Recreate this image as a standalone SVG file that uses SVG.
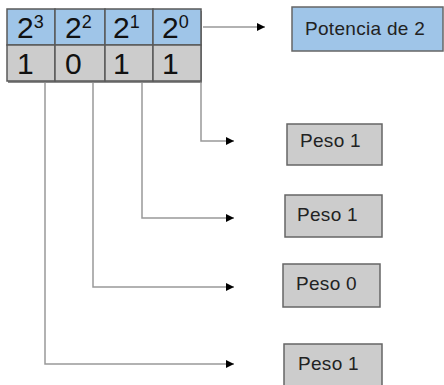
<svg xmlns="http://www.w3.org/2000/svg" width="444" height="385" viewBox="0 0 444 385">
<style>
.cell-top{fill:#9fc5e8;stroke:#595959;stroke-width:1.5}
.cell-bot{fill:#cccccc;stroke:#595959;stroke-width:1.5}
.big{font-family:"Liberation Sans",Arial,sans-serif;font-size:30px;fill:#111}
.sup{font-family:"Liberation Sans",Arial,sans-serif;font-size:18px;fill:#111}
.box-blue{fill:#9fc5e8;stroke:#666666;stroke-width:1.5}
.box-gray{fill:#cccccc;stroke:#666666;stroke-width:1.5}
.lbl{font-family:"Liberation Sans",Arial,sans-serif;font-size:19px;letter-spacing:0.3px;fill:#222}
.conn{fill:none;stroke:#999999;stroke-width:1.5}
</style>
<defs>
<marker id="arr" viewBox="0 0 10 10" refX="10" refY="5" markerWidth="8" markerHeight="8" markerUnits="userSpaceOnUse" orient="auto">
<path d="M0,0 L10,5 L0,10 z" fill="#000"/>
</marker>
</defs>
<rect width="444" height="385" fill="#ffffff"/>
<g id="table">
<rect x="8" y="11" width="194" height="72" fill="#8a8a8a"/>
<rect class="cell-top" x="7" y="9" width="48" height="36"/>
<rect class="cell-top" x="55" y="9" width="50" height="36"/>
<rect class="cell-top" x="105" y="9" width="48" height="36"/>
<rect class="cell-top" x="153" y="9" width="48" height="36"/>
<rect class="cell-bot" x="7" y="45" width="48" height="36"/>
<rect class="cell-bot" x="55" y="45" width="50" height="36"/>
<rect class="cell-bot" x="105" y="45" width="48" height="36"/>
<rect class="cell-bot" x="153" y="45" width="48" height="36"/>
<text class="big" x="17" y="38">2<tspan class="sup" dy="-10">3</tspan></text>
<text class="big" x="65" y="38">2<tspan class="sup" dy="-10">2</tspan></text>
<text class="big" x="113" y="38">2<tspan class="sup" dy="-10">1</tspan></text>
<text class="big" x="162" y="38">2<tspan class="sup" dy="-10">0</tspan></text>
<text class="big" x="17" y="74">1</text>
<text class="big" x="65" y="74">0</text>
<text class="big" x="113" y="74">1</text>
<text class="big" x="162" y="74">1</text>
</g>
<g id="connectors">
<path class="conn" d="M203,27 H265" marker-end="url(#arr)"/>
<path class="conn" d="M201,83 V141 H234" marker-end="url(#arr)"/>
<path class="conn" d="M142,83 V218 H234" marker-end="url(#arr)"/>
<path class="conn" d="M93,83 V287 H234" marker-end="url(#arr)"/>
<path class="conn" d="M45,83 V364 H234" marker-end="url(#arr)"/>
</g>
<g id="potencia">
<rect class="box-blue" x="292" y="7" width="151" height="44"/>
<text class="lbl" x="305" y="35">Potencia de 2</text>
</g>
<g id="peso1a">
<rect class="box-gray" x="287" y="124" width="95" height="41"/>
<text class="lbl" x="300" y="147">Peso 1</text>
</g>
<g id="peso1b">
<rect class="box-gray" x="285" y="195" width="97" height="42"/>
<text class="lbl" x="297" y="221">Peso 1</text>
</g>
<g id="peso0">
<rect class="box-gray" x="283" y="264" width="97" height="43"/>
<text class="lbl" x="296" y="290">Peso 0</text>
</g>
<g id="peso1c">
<rect class="box-gray" x="284" y="344" width="98" height="44"/>
<text class="lbl" x="298" y="370">Peso 1</text>
</g>
</svg>
